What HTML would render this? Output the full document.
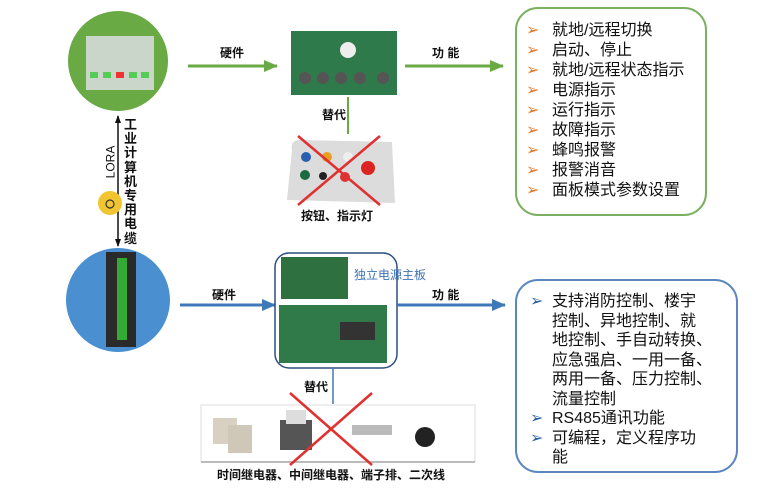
<!DOCTYPE html>
<html><head><meta charset="utf-8"><style>
body{margin:0;width:767px;height:493px;background:#fff;position:relative;overflow:hidden;font-family:"Liberation Sans","Noto Sans CJK SC",sans-serif;color:#111}
.a{position:absolute}
.t{position:absolute;font-size:12px;font-weight:bold;white-space:nowrap}
ul{list-style:none;margin:0;padding:0}
li{position:relative;padding-left:36px;font-size:16px;line-height:20px;white-space:nowrap}
.g li:before{content:"➢";position:absolute;left:10px;color:#e07a2a;font-size:16px}
.b li:before{content:"➢";position:absolute;left:14px;color:#2d5fa0;font-size:16px}
.b li{line-height:19.5px}
</style></head><body>
<svg class="a" style="left:0;top:0" width="767" height="493">
<defs>
<marker id="ag" markerUnits="userSpaceOnUse" markerWidth="14" markerHeight="12" refX="13" refY="6" orient="auto"><path d="M0,0L14,6L0,12z" fill="#6aaa45"/></marker>
<marker id="ab" markerUnits="userSpaceOnUse" markerWidth="14" markerHeight="12" refX="13" refY="6" orient="auto"><path d="M0,0L14,6L0,12z" fill="#3f78b8"/></marker>
<marker id="ak" markerUnits="userSpaceOnUse" markerWidth="8" markerHeight="8" refX="7" refY="4" orient="auto-start-reverse"><path d="M0,1L8,4L0,7z" fill="#111"/></marker>
</defs>
<circle cx="118" cy="61" r="50" fill="#6aaa45"/>
<rect x="86" y="36" width="68" height="54" fill="#c9d6c9"/>
<rect x="90" y="72" width="8" height="6" fill="#5c5"/><rect x="103" y="72" width="8" height="6" fill="#5c5"/><rect x="116" y="72" width="8" height="6" fill="#e33"/><rect x="129" y="72" width="8" height="6" fill="#5c5"/><rect x="141" y="72" width="8" height="6" fill="#5c5"/>
<line x1="188" y1="66" x2="277" y2="66" stroke="#6aaa45" stroke-width="3" marker-end="url(#ag)"/>
<rect x="291" y="31" width="106" height="64" fill="#2f7a4a"/>
<circle cx="348" cy="50" r="8" fill="#eee"/>
<g fill="#555"><circle cx="305" cy="78" r="6"/><circle cx="323" cy="78" r="6"/><circle cx="341" cy="78" r="6"/><circle cx="360" cy="78" r="6"/><circle cx="383" cy="78" r="6"/></g>
<line x1="405" y1="66" x2="503" y2="66" stroke="#6aaa45" stroke-width="3" marker-end="url(#ag)"/>
<line x1="348" y1="97" x2="348" y2="134" stroke="#6aaa45" stroke-width="2"/>
<path d="M292,150 Q290,140 300,140 L392,142 L395,203 L287,200z" fill="#dcdcdc"/>
<g><circle cx="306" cy="157" r="5" fill="#2a5fb0"/><circle cx="327" cy="157" r="5" fill="#e8a020"/><circle cx="348" cy="157" r="5" fill="#eee"/><circle cx="305" cy="175" r="5" fill="#1d6a40"/><circle cx="323" cy="176" r="4" fill="#222"/><circle cx="345" cy="177" r="5" fill="#d33"/><circle cx="368" cy="168" r="7" fill="#d22"/></g>
<line x1="298" y1="136" x2="380" y2="205" stroke="#e03030" stroke-width="2.5"/>
<line x1="380" y1="136" x2="298" y2="205" stroke="#e03030" stroke-width="2.5"/>
<line x1="118" y1="116" x2="118" y2="246" stroke="#111" stroke-width="1.5" marker-end="url(#ak)" marker-start="url(#ak)"/>
<circle cx="110" cy="203" r="12" fill="#f0c530"/>
<circle cx="110" cy="204" r="4" fill="none" stroke="#333" stroke-width="1.2"/>
<circle cx="118" cy="300" r="52" fill="#4a8fd0"/>
<rect x="106" y="252" width="30" height="95" fill="#2a2a2a"/>
<rect x="117" y="258" width="10" height="82" fill="#3a3"/>
<line x1="180" y1="305" x2="275" y2="305" stroke="#3f78b8" stroke-width="3" marker-end="url(#ab)"/>
<rect x="275" y="253" width="122" height="115" rx="14" fill="none" stroke="#2d4f80" stroke-width="1.5"/>
<rect x="281" y="257" width="67" height="42" fill="#2f7040"/>
<rect x="279" y="305" width="108" height="58" fill="#2f7a48"/>
<rect x="340" y="322" width="35" height="18" fill="#333"/>
<line x1="397" y1="305" x2="505" y2="305" stroke="#3f78b8" stroke-width="3" marker-end="url(#ab)"/>
<line x1="333" y1="368" x2="333" y2="404" stroke="#3f78b8" stroke-width="1.5"/>
<rect x="201" y="405" width="274" height="57" fill="#fff" stroke="#ddd"/>
<line x1="201" y1="462" x2="475" y2="462" stroke="#bbb" stroke-width="2"/>
<rect x="213" y="418" width="24" height="26" fill="#d8d0c0"/><rect x="228" y="425" width="24" height="28" fill="#cfc8b8"/>
<rect x="280" y="420" width="32" height="30" fill="#555"/><rect x="286" y="410" width="20" height="14" fill="#ddd"/>
<rect x="352" y="425" width="40" height="10" fill="#bbb"/>
<circle cx="425" cy="437" r="10" fill="#222"/>
<line x1="290" y1="393" x2="372" y2="465" stroke="#e03030" stroke-width="2.5"/>
<line x1="372" y1="393" x2="290" y2="465" stroke="#e03030" stroke-width="2.5"/>
<rect x="516" y="8" width="190" height="207" rx="22" fill="none" stroke="#7ab060" stroke-width="2"/>
<rect x="516" y="280" width="221" height="192" rx="22" fill="none" stroke="#5b87c0" stroke-width="2"/>
</svg>
<div class="t" style="left:220px;top:44px">硬件</div>
<div class="t" style="left:432px;top:44px">功 能</div>
<div class="t" style="left:322px;top:106px">替代</div>
<div class="t" style="left:301px;top:207px">按钮、指示灯</div>
<div class="t" style="left:124px;top:118px;width:14px;white-space:normal;font-size:13px;line-height:14.2px">工业计算机专用电缆</div>
<div class="t" style="left:94px;top:155px;transform:rotate(-90deg);font-weight:normal;font-size:12px">LORA</div>
<div class="t" style="left:212px;top:286px">硬件</div>
<div class="t" style="left:432px;top:286px">功 能</div>
<div class="t" style="left:354px;top:266px;color:#3d72b8;font-weight:normal;font-size:12px">独立电源主板</div>
<div class="t" style="left:304px;top:378px">替代</div>
<div class="t" style="left:217px;top:466px">时间继电器、中间继电器、端子排、二次线</div>
<ul class="g a" style="left:516px;top:21px"><li>就地/远程切换</li><li>启动、停止</li><li>就地/远程状态指示</li><li>电源指示</li><li>运行指示</li><li>故障指示</li><li>蜂鸣报警</li><li>报警消音</li><li>面板模式参数设置</li></ul>
<ul class="b a" style="left:516px;top:292px"><li>支持消防控制、楼宇<br>控制、异地控制、就<br>地控制、手自动转换、<br>应急强启、一用一备、<br>两用一备、压力控制、<br>流量控制</li><li>RS485通讯功能</li><li>可编程，定义程序功<br>能</li></ul>
</body></html>
